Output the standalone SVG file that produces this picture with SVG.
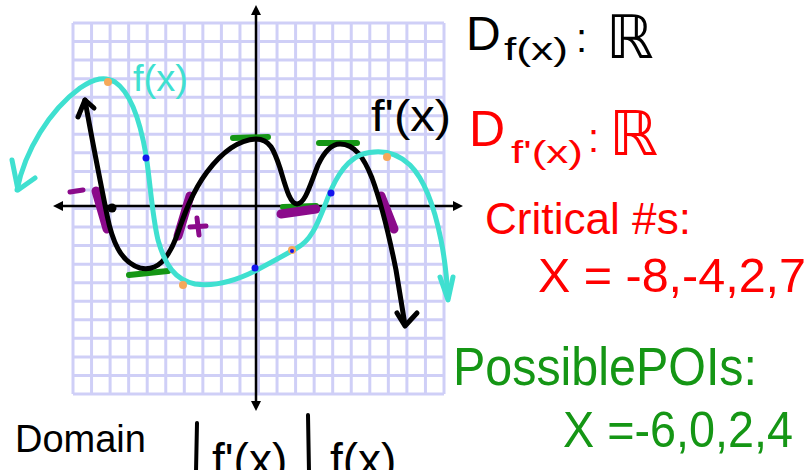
<svg xmlns="http://www.w3.org/2000/svg" width="811" height="470" viewBox="0 0 811 470">
<style>
.grid line{stroke:#cfcff7;stroke-width:3}
.axis{stroke:#000;stroke-width:2.5;fill:none}
.fp{stroke:#000;stroke-width:5;fill:none;stroke-linecap:round;stroke-linejoin:round}
.f{stroke:#3fe0d0;stroke-width:5;fill:none;stroke-linecap:round;stroke-linejoin:round}
.grn{stroke:#159615;stroke-width:6;stroke-linecap:round}
.pur{stroke:#8b0a8b;stroke-width:9;stroke-linecap:round}
.purt{stroke:#8b0a8b;stroke-width:5;stroke-linecap:round}
.t{font-family:"Liberation Sans","DejaVu Sans",sans-serif}
.R{font-family:"DejaVu Sans",sans-serif}
</style>
<rect width="811" height="470" fill="#fff"/>
<g id="grid" class="grid">
<line x1="73" y1="23" x2="73" y2="394"/><line x1="91.55" y1="23" x2="91.55" y2="394"/><line x1="110.1" y1="23" x2="110.1" y2="394"/><line x1="128.65" y1="23" x2="128.65" y2="394"/><line x1="147.2" y1="23" x2="147.2" y2="394"/><line x1="165.75" y1="23" x2="165.75" y2="394"/><line x1="184.3" y1="23" x2="184.3" y2="394"/><line x1="202.85" y1="23" x2="202.85" y2="394"/><line x1="221.4" y1="23" x2="221.4" y2="394"/><line x1="239.95" y1="23" x2="239.95" y2="394"/><line x1="258.5" y1="23" x2="258.5" y2="394"/><line x1="277.05" y1="23" x2="277.05" y2="394"/><line x1="295.6" y1="23" x2="295.6" y2="394"/><line x1="314.15" y1="23" x2="314.15" y2="394"/><line x1="332.7" y1="23" x2="332.7" y2="394"/><line x1="351.25" y1="23" x2="351.25" y2="394"/><line x1="369.8" y1="23" x2="369.8" y2="394"/><line x1="388.35" y1="23" x2="388.35" y2="394"/><line x1="406.9" y1="23" x2="406.9" y2="394"/><line x1="425.45" y1="23" x2="425.45" y2="394"/><line x1="444" y1="23" x2="444" y2="394"/>
<line x1="73" y1="23" x2="444" y2="23"/><line x1="73" y1="41.55" x2="444" y2="41.55"/><line x1="73" y1="60.1" x2="444" y2="60.1"/><line x1="73" y1="78.65" x2="444" y2="78.65"/><line x1="73" y1="97.2" x2="444" y2="97.2"/><line x1="73" y1="115.75" x2="444" y2="115.75"/><line x1="73" y1="134.3" x2="444" y2="134.3"/><line x1="73" y1="152.85" x2="444" y2="152.85"/><line x1="73" y1="171.4" x2="444" y2="171.4"/><line x1="73" y1="189.95" x2="444" y2="189.95"/><line x1="73" y1="208.5" x2="444" y2="208.5"/><line x1="73" y1="227.05" x2="444" y2="227.05"/><line x1="73" y1="245.6" x2="444" y2="245.6"/><line x1="73" y1="264.15" x2="444" y2="264.15"/><line x1="73" y1="282.7" x2="444" y2="282.7"/><line x1="73" y1="301.25" x2="444" y2="301.25"/><line x1="73" y1="319.8" x2="444" y2="319.8"/><line x1="73" y1="338.35" x2="444" y2="338.35"/><line x1="73" y1="356.9" x2="444" y2="356.9"/><line x1="73" y1="375.45" x2="444" y2="375.45"/><line x1="73" y1="394" x2="444" y2="394"/>
</g>
<g id="axes">
<line class="axis" x1="256" y1="12" x2="256" y2="404"/>
<path d="M256,5 L251,15 L261,15 Z M256,411 L251,401 L261,401 Z" fill="#000"/>
<line class="axis" x1="60" y1="206" x2="456" y2="206"/>
<path d="M53,206 L63,201 L63,211 Z M463,206 L453,201 L453,211 Z" fill="#000"/>
</g>
<g id="marks-green">
<line class="grn" x1="129" y1="275" x2="168" y2="271"/>
<line class="grn" x1="233" y1="138" x2="268" y2="137"/>
<line class="grn" x1="319" y1="143" x2="357" y2="143"/>
<line class="grn" x1="283" y1="207" x2="316" y2="206"/>
</g>
<g id="marks-purple">
<line class="pur" x1="96" y1="191" x2="107" y2="229"/>
<line class="purt" x1="70" y1="192" x2="83" y2="190"/>
<line class="pur" x1="190" y1="196" x2="178" y2="236"/>
<line class="purt" x1="190" y1="227" x2="206" y2="226"/>
<line class="purt" x1="197" y1="218" x2="199" y2="235"/>
<line class="pur" x1="281" y1="214" x2="316" y2="209"/>
<line class="pur" x1="381" y1="196" x2="394" y2="229"/>
</g>
<g id="fprime">
<path class="fp" d="M85,100 C92,140 100,180 107,215 C112,240 120,262 140,268 C158,272 168,258 176,238 C184,215 192,192 207,172 C222,152 238,140 256,139 C270,139 274,150 280,168 C286,188 290,204 297,204 C305,204 310,185 318,165 C326,148 333,144 340,144 C355,144 364,158 372,178 C382,205 390,240 396,270 L405,325"/>
<path class="fp" d="M78,117 L85,100 L94,108"/>
<path class="fp" d="M397,313 L405,326 L417,313"/>
<circle cx="112" cy="208" r="4.5" fill="#000"/>
<text class="t" x="371" y="131" font-size="44" textLength="80" lengthAdjust="spacingAndGlyphs">f'(x)</text>
</g>
<g id="f">
<path class="f" d="M17,190 C25,150 50,110 80,88 C95,78 105,76 115,82 C130,92 140,120 146,155 C150,180 152,215 158,240 C165,265 175,280 195,284 C215,287 235,281 255,271 C270,263 283,256 297,248 C312,240 318,222 325,205 C333,183 343,163 360,155 C378,149 395,151 410,165 C425,180 435,210 441,240 C445,260 447,280 448,298"/>
<path class="f" d="M12,160 L18,190 L35,178"/>
<path class="f" d="M440,277 L448,300 L453,277"/>
<text class="t" x="133" y="91" font-size="36" fill="#3fe0d0" textLength="55" lengthAdjust="spacingAndGlyphs">f(x)</text>
</g>
<g id="points">
<circle cx="108" cy="82" r="4" fill="#f5a85a"/>
<circle cx="183" cy="285" r="4" fill="#f5a85a"/>
<circle cx="292" cy="250" r="4" fill="#f5a85a"/>
<circle cx="387" cy="157" r="4" fill="#f5a85a"/>
<circle cx="146" cy="158" r="3.5" fill="#1515ee"/>
<circle cx="255" cy="268" r="3.5" fill="#1515ee"/>
<circle cx="331" cy="193" r="3.5" fill="#1515ee"/>
<circle cx="292" cy="251" r="2" fill="#1515ee"/>
</g>
<g id="domain-f">
<text class="t" x="466" y="50" font-size="48">D</text>
<text class="t" x="504" y="60" font-size="32" textLength="64" lengthAdjust="spacingAndGlyphs">f(x)</text>
<text class="t" x="576" y="52" font-size="40">:</text>
<text class="R" x="606" y="58" font-size="60">ℝ</text>
</g>
<g id="domain-fprime" fill="#ff0000">
<text class="t" x="469" y="146" font-size="50">D</text>
<text class="t" x="511" y="163" font-size="32" textLength="72" lengthAdjust="spacingAndGlyphs">f'(x)</text>
<text class="t" x="588" y="152" font-size="40">:</text>
<text class="R" x="609" y="155" font-size="62">ℝ</text>
</g>
<g id="critical" fill="#ff0000">
<text class="t" x="485" y="234" font-size="44" textLength="206" lengthAdjust="spacingAndGlyphs">Critical #s:</text>
<text class="t" x="538" y="292" font-size="48" textLength="268" lengthAdjust="spacingAndGlyphs">X = -8,-4,2,7</text>
</g>
<g id="poi" fill="#159615">
<text class="t" x="453" y="385" font-size="54" textLength="304" lengthAdjust="spacingAndGlyphs">PossiblePOIs:</text>
<text class="t" x="563" y="447" font-size="50" textLength="230" lengthAdjust="spacingAndGlyphs">X =-6,0,2,4</text>
</g>
<g id="table">
<text class="t" x="15" y="452" font-size="38">Domain</text>
<line x1="197" y1="423" x2="196" y2="472" stroke="#000" stroke-width="4" stroke-linecap="round"/>
<line x1="308" y1="415" x2="309" y2="472" stroke="#000" stroke-width="4" stroke-linecap="round"/>
<text class="t" x="212" y="476" font-size="46">f'(x)</text>
<text class="t" x="330" y="476" font-size="46">f(x)</text>
</g>
</svg>
